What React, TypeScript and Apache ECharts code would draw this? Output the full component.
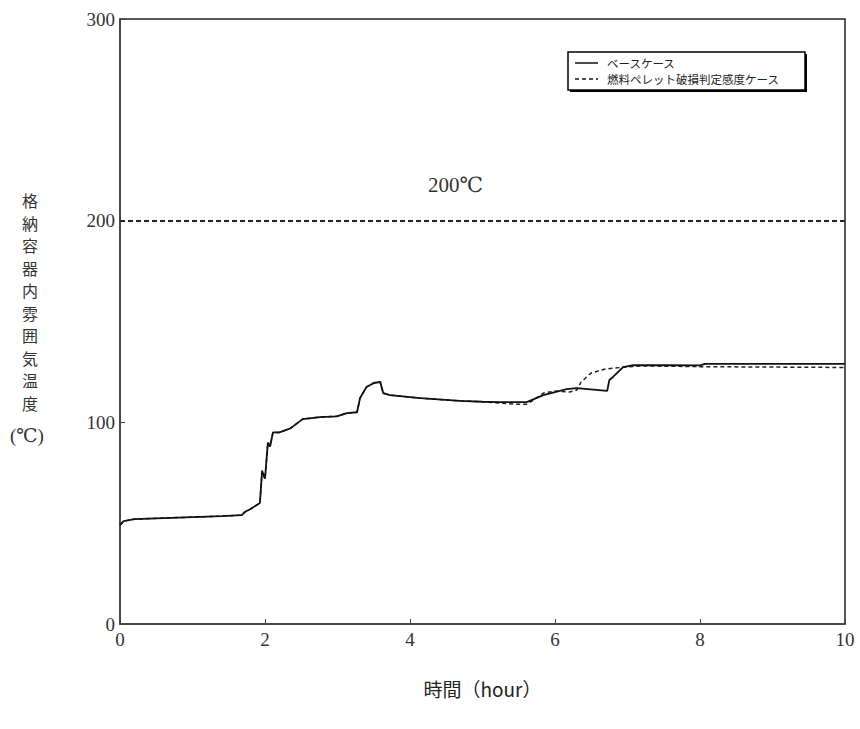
import React, { useEffect, useRef } from "react";
import * as echarts from "echarts";

// Base case (solid line): time [hour], temperature [°C]
const baseTime = [0, 0.05, 0.2, 0.6, 1.0, 1.4, 1.68, 1.72, 1.8, 1.93, 1.96, 2.0, 2.04, 2.07, 2.11, 2.2, 2.35, 2.52, 2.76, 2.99, 3.13, 3.27, 3.31, 3.4, 3.5, 3.59, 3.63, 3.72, 4.14, 4.69, 5.0, 5.24, 5.61, 5.84, 6.16, 6.3, 6.72, 6.75, 6.8, 6.94, 7.08, 7.5, 8.0, 8.07, 10];
const baseTemp = [49, 51, 52, 52.5, 53, 53.5, 54, 55.5, 57, 60, 76, 72, 90, 88, 95, 95, 97, 101.6, 102.6, 103, 104.6, 105, 112, 117.5, 119.5, 120, 114.5, 113.5, 112, 110.6, 110.2, 110, 110, 113.5, 116.5, 117, 115.6, 121, 122.5, 127.4, 128.4, 128.3, 128.2, 129, 129];

// Fuel pellet damage sensitivity case (dashed line), diverging after ~5 h
const dashTime = [5.24, 5.45, 5.61, 5.7, 5.84, 6.0, 6.2, 6.3, 6.36, 6.5, 6.7, 7.0, 7.2, 8.0, 10];
const dashTemp = [109.5, 109, 109, 111, 114.5, 115.5, 115, 116, 120, 124.5, 126.5, 127.5, 128, 127.6, 127.2];
const dashFromBaseUntil = 5.0;

const limitValue = 200;
const yTicks = [0, 100, 200, 300];
const seriesNames = ["ベースケース", "燃料ペレット破損判定感度ケース"];
const yAxisTitle = ["格", "納", "容", "器", "内", "雰", "囲", "気", "温", "度"];

export default function App() {
  const ref = useRef<HTMLDivElement>(null);
  useEffect(() => {
    if (!ref.current) return;
    const chart = echarts.init(ref.current, undefined, { renderer: "svg" });
    const baseData = baseTime.map((t, i) => [t, baseTemp[i]]);
    const dashData = baseTime
      .map((t, i) => [t, baseTemp[i]])
      .filter((p) => p[0] <= dashFromBaseUntil)
      .concat(dashTime.map((t, i) => [t, dashTemp[i]]));
    const serif = "'Liberation Serif', 'DejaVu Serif', serif";
    const cjk = "'Noto Sans CJK JP', sans-serif";

    const titleChars = yAxisTitle.map((ch, i) => ({
      type: "text",
      x: 30,
      y: 200 + i * 22.5,
      style: { text: ch, fontSize: 16, fill: "#333", fontFamily: cjk, align: "center", verticalAlign: "middle" },
    }));

    const legendGraphics = [
      {
        type: "rect",
        shape: { x: 570, y: 54, width: 237, height: 38 },
        style: { fill: "#000" },
        z: 100,
      },
      {
        type: "rect",
        shape: { x: 568, y: 52, width: 237, height: 38 },
        style: { fill: "#fff", stroke: "#000", lineWidth: 1.5 },
        z: 101,
      },
      {
        type: "line",
        shape: { x1: 575, y1: 63, x2: 598, y2: 63 },
        style: { stroke: "#111", lineWidth: 1.5 },
        z: 102,
      },
      {
        type: "line",
        shape: { x1: 575, y1: 79, x2: 598, y2: 79 },
        style: { stroke: "#111", lineWidth: 1.5, lineDash: [4, 3] },
        z: 102,
      },
      {
        type: "text",
        x: 607,
        y: 63,
        style: { text: seriesNames[0], fontSize: 11.5, fill: "#222", fontFamily: cjk, verticalAlign: "middle" },
        z: 102,
      },
      {
        type: "text",
        x: 607,
        y: 79,
        style: { text: seriesNames[1], fontSize: 11.5, fill: "#222", fontFamily: cjk, verticalAlign: "middle" },
        z: 102,
      },
    ];

    chart.setOption({
      animation: false,
      backgroundColor: "#fff",
      grid: {
        left: 120,
        right: 15,
        top: 19,
        bottom: 105,
        show: true,
        borderColor: "#222",
        borderWidth: 1.5,
        backgroundColor: "transparent",
      },
      xAxis: {
        type: "value",
        min: 0,
        max: 10,
        interval: 2,
        name: "時間（hour）",
        nameLocation: "middle",
        nameGap: 55,
        nameTextStyle: { fontSize: 19, color: "#222", fontFamily: cjk },
        axisLine: { lineStyle: { color: "#444", width: 1.5 } },
        axisTick: { inside: true, length: 5, lineStyle: { color: "#444" } },
        axisLabel: { fontSize: 19, color: "#333", fontFamily: serif, margin: 6 },
        splitLine: { show: false },
      },
      yAxis: {
        type: "value",
        min: yTicks[0],
        max: yTicks[yTicks.length - 1],
        interval: 100,
        axisLine: { show: true, lineStyle: { color: "#444", width: 1.5 } },
        axisTick: { show: true, inside: true, length: 5, lineStyle: { color: "#444" } },
        axisLabel: { fontSize: 19, color: "#333", fontFamily: serif, margin: 5 },
        splitLine: { show: false },
      },
      graphic: [
        ...titleChars,
        {
          type: "text",
          left: 10,
          top: 426,
          style: { text: "(℃)", fontSize: 19, fill: "#333", fontFamily: serif },
        },
        {
          type: "text",
          left: 428,
          top: 174,
          style: { text: "200℃", fontSize: 21, fill: "#333", fontFamily: serif },
        },
        ...legendGraphics,
      ],
      series: [
        {
          name: seriesNames[1],
          type: "line",
          data: dashData,
          showSymbol: false,
          symbol: "none",
          z: 2,
          lineStyle: { color: "#222", width: 1.5, type: [4, 3] },
          itemStyle: { color: "#222" },
        },
        {
          name: seriesNames[0],
          type: "line",
          data: baseData,
          showSymbol: false,
          symbol: "none",
          z: 3,
          lineStyle: { color: "#111", width: 1.8 },
          itemStyle: { color: "#111" },
          markLine: {
            silent: true,
            symbol: "none",
            label: { show: false },
            lineStyle: { color: "#222", width: 2, type: [5, 3] },
            data: [{ yAxis: limitValue }],
          },
        },
      ],
    });
    return () => chart.dispose();
  }, []);
  return <div ref={ref} style={{ width: 860, height: 729, position: "absolute", left: 0, top: 0 }} />;
}
